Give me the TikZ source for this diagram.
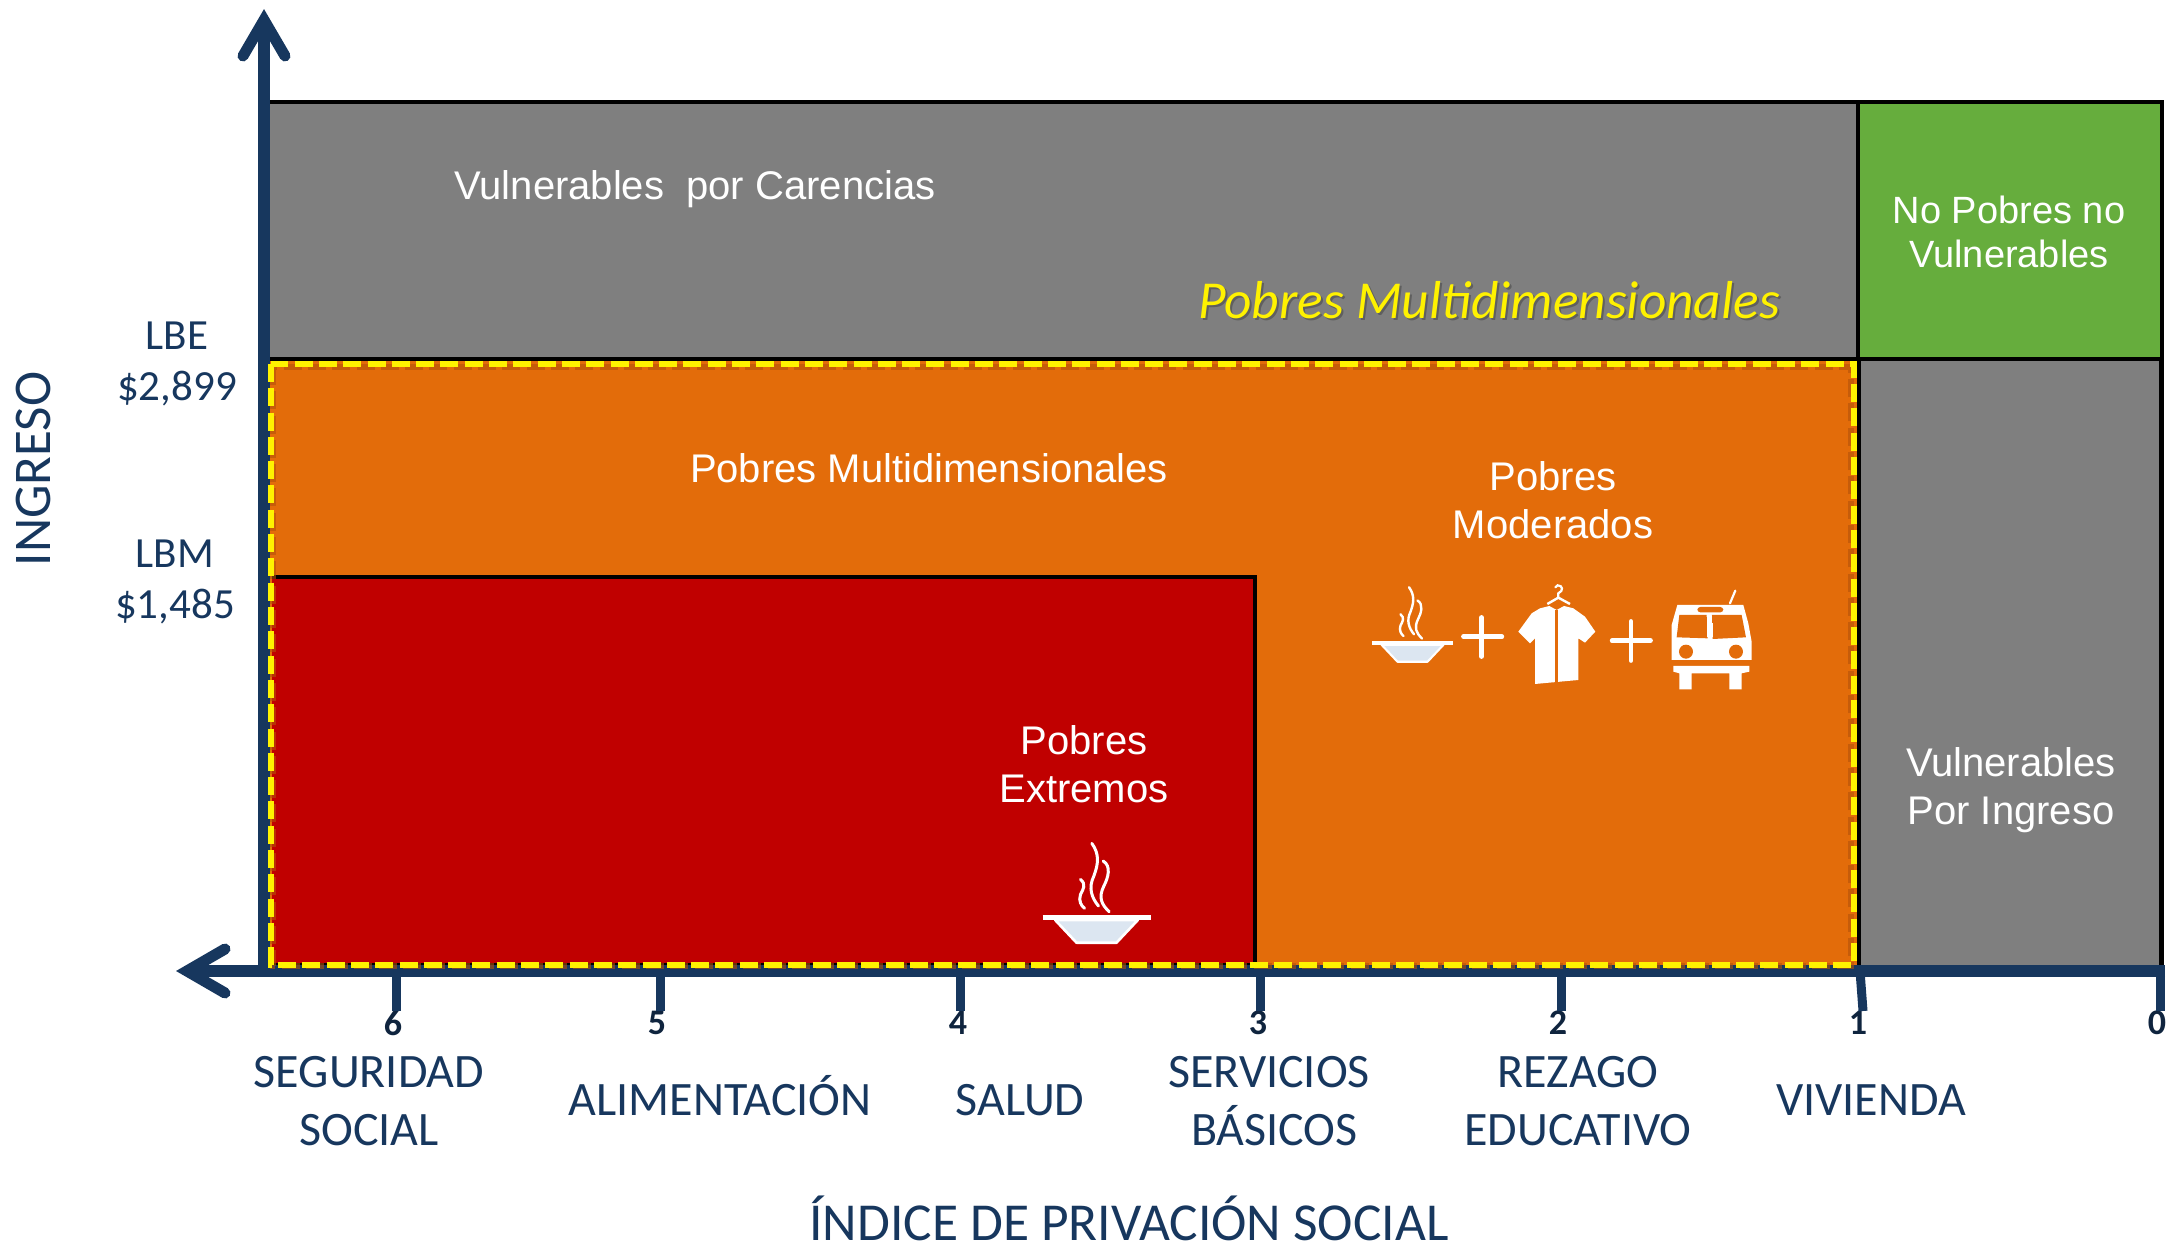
\documentclass[tikz,border=0pt]{standalone}
\usepackage{fontspec}
\setmainfont{Carlito}
\newfontfamily\arialf{Liberation Sans}
\definecolor{navy}{HTML}{17375E}
\definecolor{navyd}{HTML}{0F243E}
\definecolor{cgrey}{HTML}{7F7F7F}
\definecolor{cgreen}{HTML}{66AD3D}
\definecolor{corange}{HTML}{E36C0A}
\definecolor{cred}{HTML}{C00000}
\definecolor{cshadow}{HTML}{B4520A}
\definecolor{cbowl}{HTML}{DCE6F1}
\tikzset{
  region/.style={draw=black,line width=2.2pt},
  axisline/.style={draw=navy,line width=6pt},
  axishead/.style={draw=navy,line width=5.5pt,line cap=round,miter limit=10},
  ticki/.style={draw=navy,line width=4.5pt},
  wtext/.style={text=white,align=center,font=\arialf\fontsize{20}{24}\selectfont,inner sep=0pt},
  ltext/.style={text=navy,align=center,font=\fontsize{24}{29}\selectfont,inner sep=0pt},
  slabel/.style={ltext,anchor=base},
  numtext/.style={text=navyd,font=\bfseries\fontsize{18}{20}\selectfont,inner sep=0pt},
  valtext/.style={ltext,font=\fontsize{21.5}{25.7}\selectfont},
  iconw/.style={draw=white,line cap=round},
}
\newcommand{\bowlicon}[4]{%
  \begin{scope}[shift={(#1,#2)},scale=#3]
    \filldraw[draw=white,fill=cbowl,line width=#4*1.3pt,line join=round] (-124,7) -- (-60,75) -- (60,75) -- (124,7) -- cycle;
    \draw[iconw,line width=#4*2.5pt,line cap=butt] (-162,0) -- (162,0);
    \draw[iconw,line width=#4*1.5pt] (-14,-223) .. controls (10,-190) and (5,-160) .. (-8,-125) .. controls (-25,-90) and (-15,-60) .. (6,-35);
    \draw[iconw,line width=#4*1.5pt] (20,-170) .. controls (45,-155) and (35,-120) .. (22,-95) .. controls (5,-60) and (15,-40) .. (38,-18);
    \draw[iconw,line width=#4*1.5pt] (-48,-115) .. controls (-30,-100) and (-40,-85) .. (-48,-70) .. controls (-55,-50) and (-45,-35) .. (-36,-28);
  \end{scope}}
\begin{document}
\begin{tikzpicture}[x=0.5pt,y=-0.5pt]
\useasboundingbox (0,0) rectangle (2177,1245);
% regions
\path[region,fill=cgrey] (268,102) rectangle (1858,359);
\path[region,fill=cgreen,line width=2.4pt] (1858,102) rectangle (2162,359);
\path[fill=cgrey] (1860,361) rectangle (2164,965);
\draw[draw=black,line width=2.4pt] (2161.5,360) -- (2161.5,965);
\fill[corange] (270,361) rectangle (1860,965);
\draw[draw=black,line width=2pt] (1859,360) -- (1859,965);
\path[draw=black,line width=2pt,fill=cred] (272,577) -- (1255,577) -- (1255,965) -- (272,965);
% axes
\coordinate (ytop) at (264,20);
\coordinate (origin) at (264,971);
\coordinate (xleft) at (187,971);
\coordinate (xright) at (2165,971);
\draw[axisline] (264,977) -- (ytop);
\draw[axisline] (xright) -- (xleft);
\draw[axishead] (243,56) -- (ytop) -- (285,56);
\draw[axishead] (225,949) -- (xleft) -- (225,993);
% dashed outline
\draw[cshadow,line width=2.8pt,dash pattern=on 9pt off 3.15pt,opacity=.6] (273,367) rectangle (1851,966);
\draw[yellow,line width=3pt,dash pattern=on 9pt off 3.15pt] (271,364) rectangle (1854,964.5);
% ticks
\node[numtext] (n6) at (393,1023) {6};
\node[numtext] (n5) at (657,1023) {5};
\node[numtext] (n4) at (958,1023) {4};
\node[numtext] (n3) at (1258,1023) {3};
\node[numtext] (n2) at (1558,1023) {2};
\node[numtext] (n1) at (1858,1023) {1};
\node[numtext] (n0) at (2157,1023) {0};
\draw[ticki] (396,971) -- (396,1011);
\draw[ticki] (660,971) -- (660,1011);
\draw[ticki] (960,971) -- (960,1011);
\draw[ticki] (1260,971) -- (1260,1011);
\draw[ticki] (1561,971) -- (1561,1011);
\draw[ticki] (1860,971) -- (1863,1011);
\draw[ticki] (2160,971) -- (2160,1011);
% region text
\node[wtext] (vc) at (695,189) {Vulnerables\ \ por Carencias};
\node[text=black,opacity=.25,inner sep=0pt,font=\itshape\fontsize{26.7}{30}\selectfont] (pmys) at (1491,302) {Pobres Multidimensionales};
\node[text=yellow,inner sep=0pt,font=\itshape\fontsize{26.7}{30}\selectfont] (pmy) at (1489,300) {Pobres Multidimensionales};
\node[wtext,font=\arialf\fontsize{19}{22.4}\selectfont] (np) at (2009,232) {No Pobres no\\Vulnerables};
\node[wtext] (pm) at (929,468) {Pobres Multidimensionales};
\node[wtext] (pmod) at (1553,500) {Pobres\\Moderados};
\node[wtext] (pe) at (1084,764) {Pobres\\Extremos};
\node[wtext] (vi) at (2011,790) {Vulnerables\\Por Ingreso};
% outer labels
\node[valtext] (lbe) at (177,364) {LBE\\\$2,899};
\node[valtext] (lbm) at (175,582) {LBM\\\$1,485};
\node[ltext,rotate=90,font=\fontsize{26.5}{30}\selectfont] (ing) at (33,469) {INGRESO};
\node[ltext] (d6) at (369,1101) {SEGURIDAD\\SOCIAL};
\node[slabel] (d5) at (720,1115) {ALIMENTACIÓN};
\node[slabel] (d4) at (1020,1115) {SALUD};
\node[ltext] (d3) at (1269,1101) {SERVICIOS\\\hspace*{5.5pt}BÁSICOS};
\node[ltext] (d2) at (1578,1101) {REZAGO\\EDUCATIVO};
\node[slabel] (d1) at (1871,1115) {VIVIENDA};
\node[slabel,font=\fontsize{26.7}{30}\selectfont] (idx) at (1129,1240) {ÍNDICE DE PRIVACIÓN SOCIAL};
% icons
\bowlicon{1096.5}{917.7}{0.3333}{1}
\bowlicon{1412.5}{643}{0.25}{0.8}
\begin{scope}[shift={(1340,560)},scale=0.3333]
  % plus signs
  \draw[iconw,line width=2.2pt] (370,230) -- (486,230);
  \draw[iconw,line width=2.2pt] (425,172) -- (425,290);
  \draw[iconw,line width=2.2pt] (816,242) -- (932,242);
  \draw[iconw,line width=2.2pt] (873,184) -- (873,302);
  % shirt
  \draw[iconw,line width=1.2pt,line cap=butt] (622,132) -- (655,113) -- (690,132);
  \draw[iconw,line width=1.1pt] (655,113) -- (655,100) .. controls (672,92) and (668,76) .. (653,76) -- (646,82);
  \fill[white] (628,138) -- (600,145) -- (575,160) -- (535,215) -- (570,250) -- (585,235) -- (585,372) -- (715,360) -- (715,235) -- (735,248) -- (766,215) -- (735,170) -- (700,145) -- (672,138) -- (650,150) -- cycle;
  \draw[corange,line width=1.5pt] (650,150) -- (650,372);
  % bus
  \fill[white] (1012,135) -- (1210,135) -- (1225,190) -- (1235,245) -- (1235,300) -- (995,300) -- (995,195) -- cycle;
  \fill[corange,rounded corners=1.5pt] (1072,141) rectangle (1150,157);
  \fill[corange] (1018,165) -- (1100,165) -- (1103,235) -- (1010,232) -- cycle;
  \fill[corange] (1116,165) -- (1205,165) -- (1218,232) -- (1118,237) -- cycle;
  \fill[white] (1102,190) rectangle (1118,232);
  \fill[corange] (1038,275) circle [radius=21];
  \fill[corange] (1188,275) circle [radius=21];
  \fill[white] (1000,318) -- (1228,318) -- (1228,335) -- (1205,340) -- (1205,388) -- (1168,388) -- (1168,340) -- (1055,340) -- (1055,388) -- (1018,388) -- (1018,340) -- (1000,335) -- cycle;
  \draw[iconw,line width=1.1pt] (1170,130) -- (1186,92);
\end{scope}
\end{tikzpicture}
\end{document}
